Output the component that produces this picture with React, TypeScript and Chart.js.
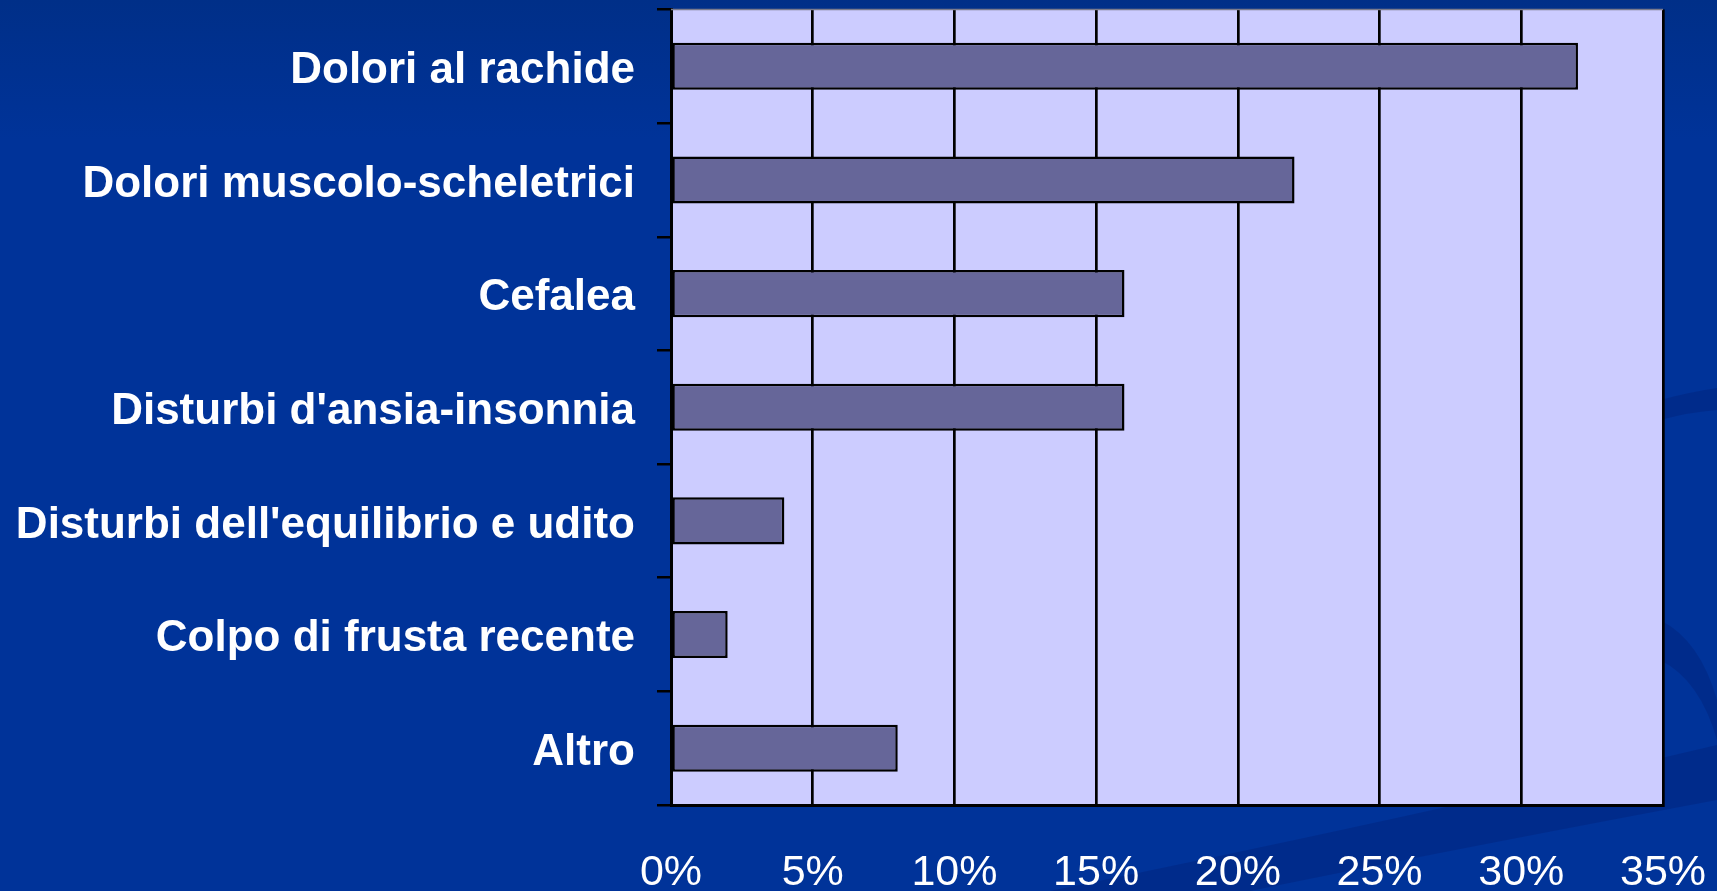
import React, { useEffect, useRef } from "react";
import { Chart, registerables } from "chart.js";

Chart.register(...registerables);

const categories = [
  "Dolori al rachide",
  "Dolori muscolo-scheletrici",
  "Cefalea",
  "Disturbi d'ansia-insonnia",
  "Disturbi dell'equilibrio e udito",
  "Colpo di frusta recente",
  "Altro",
];
const values = [32, 22, 16, 16, 4, 2, 8];
const xMin = 0;
const xMax = 35;
const xStep = 5;

const backgroundPlugin = {
  id: "bgPlugin",
  beforeDraw(chart: any) {
    const { ctx, width, height, chartArea } = chart;
    ctx.save();
    const g = ctx.createLinearGradient(0, 0, 0, 140);
    g.addColorStop(0, "#002f88");
    g.addColorStop(1, "#003399");
    ctx.fillStyle = g;
    ctx.fillRect(0, 0, width, height);
    // subtle darker streaks lower right
    ctx.fillStyle = "rgba(0, 20, 90, 0.22)";
    ctx.beginPath();
    ctx.moveTo(1050, height);
    ctx.quadraticCurveTo(1400, 820, width, 745);
    ctx.lineTo(width, 800);
    ctx.quadraticCurveTo(1450, 850, 1250, height);
    ctx.closePath();
    ctx.fill();
    ctx.beginPath();
    ctx.moveTo(1660, 400);
    ctx.quadraticCurveTo(1690, 392, width, 388);
    ctx.lineTo(width, 410);
    ctx.quadraticCurveTo(1690, 412, 1660, 420);
    ctx.closePath();
    ctx.fill();
    ctx.beginPath();
    ctx.moveTo(1660, 620);
    ctx.quadraticCurveTo(1700, 640, width, 700);
    ctx.lineTo(width, 740);
    ctx.quadraticCurveTo(1700, 680, 1660, 660);
    ctx.closePath();
    ctx.fill();
    // plot background
    ctx.fillStyle = "#ccccff";
    ctx.fillRect(
      chartArea.left,
      chartArea.top,
      chartArea.right - chartArea.left,
      chartArea.bottom - chartArea.top
    );
    ctx.restore();
  },
  afterDraw(chart: any) {
    const { ctx, chartArea } = chart;
    ctx.save();
    ctx.strokeStyle = "#7a7a8c";
    ctx.lineWidth = 1.5;
    ctx.beginPath();
    ctx.moveTo(chartArea.left, chartArea.top);
    ctx.lineTo(chartArea.right, chartArea.top);
    ctx.stroke();
    ctx.restore();
  },
};

export default function App() {
  const ref = useRef<HTMLCanvasElement>(null);

  useEffect(() => {
    if (!ref.current) return;
    const chart = new Chart(ref.current, {
      type: "bar",
      data: {
        labels: categories,
        datasets: [
          {
            data: values,
            backgroundColor: "#666699",
            borderColor: "#000000",
            borderWidth: 2.5,
            borderSkipped: false,
            barPercentage: 0.414,
            categoryPercentage: 1,
          },
        ],
      },
      options: {
        indexAxis: "y",
        responsive: false,
        maintainAspectRatio: false,
        animation: false,
        layout: { padding: { top: 9.5, right: 54, left: 0, bottom: 0 } },
        plugins: {
          legend: { display: false },
          tooltip: { enabled: false },
          title: { display: false },
        },
        scales: {
          x: {
            type: "linear",
            position: "bottom",
            min: xMin,
            max: xMax,
            ticks: {
              stepSize: xStep,
              color: "#ffffff",
              font: { family: "'Liberation Sans', Arial, sans-serif", size: 43 },
              padding: 42,
              maxRotation: 0,
              callback: (v: any) => `${v}%`,
            },
            grid: {
              color: "#000000",
              lineWidth: 2.7,
              drawTicks: false,
              drawOnChartArea: true,
            },
            border: { display: true, color: "#000000", width: 3 },
            afterFit: (s: any) => {
              s.height = 86;
              s.paddingLeft = 0;
              s.paddingRight = 0;
            },
          },
          y: {
            type: "category",
            position: "left",
            ticks: {
              color: "#ffffff",
              font: {
                family: "'Liberation Sans', Arial, sans-serif",
                size: 44,
                weight: "bold",
                lineHeight: "9px",
              },
              padding: 22,
              callback: (_v: any, i: number) => ["", categories[i]],
            },
            grid: {
              color: "#000000",
              lineWidth: 2.5,
              drawOnChartArea: false,
              drawTicks: true,
              tickLength: 14,
              offset: true,
            },
            border: { display: true, color: "#000000", width: 3 },
            afterFit: (s: any) => {
              s.width = 671;
              s.paddingTop = 0;
              s.paddingBottom = 0;
            },
          },
        },
      },
      plugins: [backgroundPlugin],
    } as any);
    return () => chart.destroy();
  }, []);

  return (
    <div
      style={{
        position: "fixed",
        left: 0,
        top: 0,
        width: 1717,
        height: 891,
        overflow: "hidden",
        background: "#003399",
      }}
    >
      <canvas ref={ref} width={1717} height={891} style={{ display: "block" }} />
    </div>
  );
}
